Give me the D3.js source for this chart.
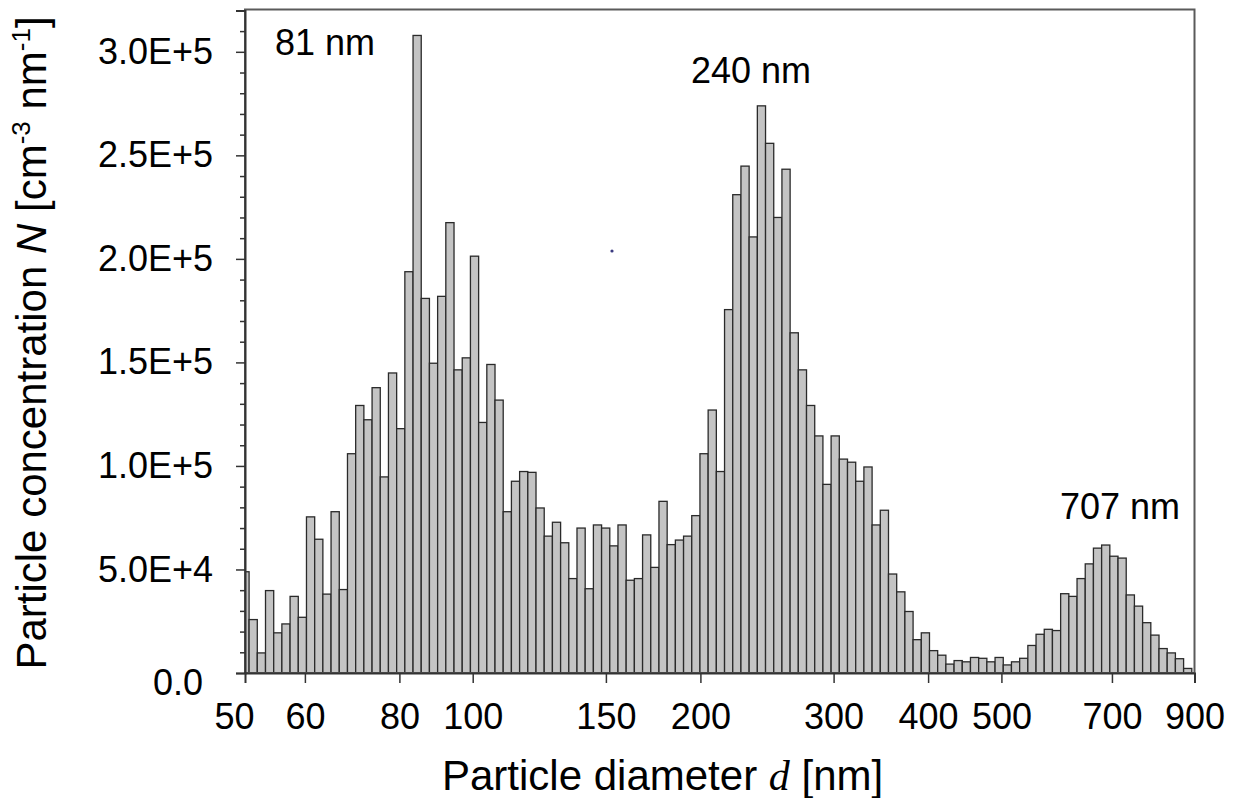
<!DOCTYPE html>
<html>
<head>
<meta charset="utf-8">
<script src="https://cdn.jsdelivr.net/npm/d3@7/dist/d3.min.js"></script>
<style>
  html, body { margin: 0; padding: 0; background: #fff; }
  svg { display: block; }
  text { font-family: "Liberation Sans", Arial, Helvetica, sans-serif; fill: #000; }
</style>
</head>
<body>
<svg id="chart" width="1233" height="798"></svg>
<script>
// Bin centre diameters [nm]
const diameters = [50.00, 51.26, 52.56, 53.89, 55.25, 56.64, 58.08, 59.54, 61.05, 62.59,
  64.17, 65.79, 67.46, 69.16, 70.91, 72.70, 74.54, 76.42, 78.35, 80.33,
  82.36, 84.44, 86.57, 88.76, 91.00, 93.30, 95.66, 98.08, 100.56, 103.10,
  105.70, 108.37, 111.11, 113.92, 116.80, 119.75, 122.78, 125.88, 129.06, 132.32,
  135.66, 139.09, 142.60, 146.21, 149.90, 153.69, 157.57, 161.55, 165.64, 169.82,
  174.11, 178.51, 183.02, 187.65, 192.39, 197.25, 202.23, 207.34, 212.58, 217.96,
  223.46, 229.11, 234.90, 240.84, 246.92, 253.16, 259.55, 266.11, 272.84, 279.73,
  286.80, 294.05, 301.47, 309.10, 316.90, 324.91, 333.12, 341.53, 350.17, 359.01,
  368.09, 377.39, 386.92, 396.70, 406.72, 417.00, 427.54, 438.33, 449.41, 460.77,
  472.42, 484.35, 496.58, 509.14, 521.99, 535.19, 548.71, 562.57, 576.79, 591.36,
  606.31, 621.63, 637.33, 653.45, 669.94, 686.88, 704.23, 722.02, 740.27, 758.97,
  778.16, 797.82, 817.97, 838.65, 859.82, 881.56];

// Particle concentration N [cm^-3 nm^-1]
const concentration = [48900, 25800, 9700, 39800, 19400, 23700, 37000, 26900, 75400, 64600,
  38100, 77900, 40300, 105900, 129200, 122300, 137800, 94700, 144900, 118000,
  193800, 307900, 180900, 149600, 181900, 217500, 146400, 152200, 201300, 121000,
  149000, 131800, 77900, 92600, 97300, 96900, 79700, 66100, 72800, 62900,
  45600, 70000, 40700, 71500, 70000, 61400, 71500, 44800, 45600, 66700,
  51000, 82900, 62000, 64200, 66100, 76000, 105900, 127000, 97300, 175500,
  231000, 244800, 210600, 273900, 255800, 220000, 243300, 164300, 146400, 129200,
  114500, 91100, 114500, 103300, 101800, 92600, 99500, 71500, 78600, 47800,
  39200, 29700, 16100, 19400, 10800, 8600, 4300, 6000, 5400, 7500,
  7100, 5400, 7500, 3900, 5400, 7100, 13300, 18700, 21100, 20500,
  38300, 37000, 45600, 52700, 60300, 61800, 56400, 55500, 37700, 32300,
  24300, 18300, 11800, 9700, 6900, 2200];

const xTickValues = [50, 60, 80, 100, 150, 200, 300, 400, 500, 700, 900];
const yMajorTicks = [0, 50000, 100000, 150000, 200000, 250000, 300000];
const yTickLabels = ["0.0", "5.0E+4", "1.0E+5", "1.5E+5", "2.0E+5", "2.5E+5", "3.0E+5"];
const yMinorTicks = [10000, 20000, 30000, 40000, 60000, 70000, 80000, 90000,
  110000, 120000, 130000, 140000, 160000, 170000, 180000, 190000,
  210000, 220000, 230000, 240000, 260000, 270000, 280000, 290000, 310000, 320000];

const peakLabels = [
  { text: "81 nm", d: 81 },
  { text: "240 nm", d: 240 },
  { text: "707 nm", d: 707 }
];

const svg = d3.select("#chart");
const L = 245, R = 1194.5, T = 9.5, B = 673;

const x = d3.scaleLog().domain([50, 900]).range([L, R]);
const y = d3.scaleLinear().domain([0, 320000]).range([B, T + 0.9]);

// clip
svg.append("defs").append("clipPath").attr("id", "plotclip")
  .append("rect").attr("x", L).attr("y", T).attr("width", R - L).attr("height", B - T);

// bin edges (geometric midpoints between neighbouring centres)
const bins = diameters.map((d, i) => {
  const prev = i > 0 ? diameters[i - 1] : d * d / diameters[i + 1];
  const next = i < diameters.length - 1 ? diameters[i + 1] : d * d / diameters[i - 1];
  return { lo: Math.sqrt(prev * d), hi: Math.sqrt(d * next), v: concentration[i] };
});

svg.append("g").attr("clip-path", "url(#plotclip)")
  .selectAll("rect").data(bins).join("rect")
  .attr("x", b => x(b.lo))
  .attr("width", b => x(b.hi) - x(b.lo))
  .attr("y", b => y(b.v))
  .attr("height", b => y(0) - y(b.v))
  .attr("fill", "#c4c4c4")
  .attr("stroke", "#2a2a2a")
  .attr("stroke-width", 1.3);

// frame (top / right)
svg.append("rect").attr("x", L).attr("y", T).attr("width", R - L).attr("height", B - T)
  .attr("fill", "none").attr("stroke", "#5a5a5a").attr("stroke-width", 2);

// y axis minor ticks
const yMinor = svg.append("g").attr("transform", `translate(${L},0)`)
  .call(d3.axisLeft(y).tickValues(yMinorTicks).tickSize(5).tickFormat(""));
yMinor.select(".domain").remove();
yMinor.selectAll("line").attr("stroke", "#333").attr("stroke-width", 1.5);

// y axis major
const yAx = svg.append("g").attr("transform", `translate(${L},0)`)
  .call(d3.axisLeft(y).tickValues(yMajorTicks).tickSize(9).tickPadding(23)
    .tickFormat((d, i) => yTickLabels[i]));
yAx.select(".domain").attr("stroke", "#333").attr("stroke-width", 2);
yAx.selectAll("line").attr("stroke", "#333").attr("stroke-width", 1.5);
yAx.selectAll("text").attr("font-size", 36)
  .attr("font-family", '"Liberation Sans", Arial, sans-serif').attr("fill", "#000");
yAx.selectAll(".tick").filter(d => d === 0).select("text")
  .attr("dx", -10).attr("dy", "0.6em");

// x axis
const xAx = svg.append("g").attr("transform", `translate(0,${B})`)
  .call(d3.axisBottom(x).tickValues(xTickValues).tickSize(10).tickPadding(20)
    .tickFormat(d3.format("d")));
xAx.select(".domain").attr("stroke", "#333").attr("stroke-width", 2);
xAx.selectAll("line").attr("stroke", "#333").attr("stroke-width", 1.5);
xAx.selectAll(".tick").filter(d => d === 50 || d === 900).select("line").remove();
xAx.selectAll("text").attr("font-size", 36)
  .attr("font-family", '"Liberation Sans", Arial, sans-serif').attr("fill", "#000");
xAx.selectAll(".tick").filter(d => d === 50).select("text").attr("dx", -11);

// x axis title
const xt = svg.append("text").attr("x", 442).attr("y", 790).attr("font-size", 42);
xt.append("tspan").text("Particle diameter ");
xt.append("tspan").attr("font-family", '"Liberation Serif", "Times New Roman", serif')
  .attr("font-style", "italic").text("d");
xt.append("tspan").text(" [nm]");

// y axis title
const yt = svg.append("text").attr("transform", "translate(46,343) rotate(-90)")
  .attr("text-anchor", "middle").attr("font-size", 42);
yt.append("tspan").text("Particle concentration ");
yt.append("tspan").attr("font-style", "italic").text("N");
yt.append("tspan").text(" [cm");
yt.append("tspan").attr("font-size", 26).attr("dy", -16).text("-3");
yt.append("tspan").attr("dy", 16).text(" nm");
yt.append("tspan").attr("font-size", 26).attr("dy", -16).text("-1");
yt.append("tspan").attr("dy", 16).text("]");

// peak annotations
const annPos = { "81 nm": [275, 55], "240 nm": [691, 83], "707 nm": [1060, 519] };
svg.selectAll("text.peak").data(peakLabels).join("text")
  .attr("class", "peak")
  .attr("x", p => annPos[p.text][0])
  .attr("y", p => annPos[p.text][1])
  .attr("font-size", 36)
  .text(p => p.text);

// small stray dot present in the original figure
svg.append("circle").attr("cx", 612).attr("cy", 251).attr("r", 1.6).attr("fill", "#3a3a80");
</script>
</body>
</html>
